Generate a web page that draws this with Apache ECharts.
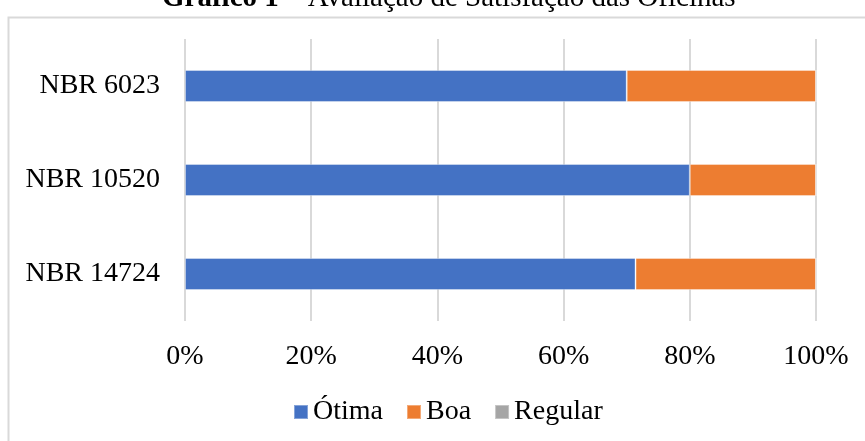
<!DOCTYPE html>
<html>
<head>
<meta charset="utf-8">
<script src="https://cdn.jsdelivr.net/npm/echarts@6/dist/echarts.min.js"></script>
<style>
  html, body { margin: 0; padding: 0; background: #fff; }
  #chart { width: 865px; height: 441px; }
</style>
</head>
<body>
<div id="chart"></div>
<script>
// dados (percentuais)
const categories = ["NBR 6023", "NBR 10520", "NBR 14724"];
const otima = [70, 80, 71.4];
const boa = [30, 20, 28.6];
const regular = [0, 0, 0];
const xTicks = [0, 20, 40, 60, 80, 100];

const font = "'Liberation Serif', 'Times New Roman', serif";

let chart = echarts.init(document.getElementById("chart"));

// série de barra empilhada
function barSeries(name, data, color) {
  return {
    name: name,
    type: "bar",
    stack: "total",
    data: data,
    barWidth: 32,
    itemStyle: { color: color, borderColor: "rgba(255,255,255,0.35)", borderWidth: 1 }
  };
}

chart.setOption({
  animation: false,
  title: {
    text: "{b|Gráfico 1} – Avaliação de Satisfação das Oficinas",
    left: 157,
    top: -21,
    textStyle: {
      fontFamily: font,
      fontSize: 29,
      fontWeight: "normal",
      color: "#000",
      rich: { b: { fontFamily: font, fontSize: 29, fontWeight: "bold", color: "#000" } }
    }
  },
  graphic: [
    {
      type: "polyline",
      shape: { points: [[8.5, 445], [8.5, 17.5], [870, 17.5]] },
      style: { stroke: "#d9d9d9", lineWidth: 2, fill: null }
    }
  ],
  legend: {
    bottom: 10,
    left: 288,
    itemWidth: 14,
    itemHeight: 14,
    itemGap: 23,
    icon: "rect",
    textStyle: { fontFamily: font, fontSize: 28, color: "#000" },
    data: ["Ótima", "Boa", "Regular"]
  },
  grid: { left: 185, right: 49, top: 39, bottom: 120 },
  xAxis: {
    type: "value",
    min: xTicks[0],
    max: xTicks[xTicks.length - 1],
    interval: 20,
    axisLine: { show: false },
    axisTick: { show: false },
    axisLabel: {
      formatter: v => v + "%",
      fontFamily: font,
      fontSize: 28,
      color: "#000",
      margin: 22
    },
    splitLine: { lineStyle: { color: "#d9d9d9", width: 2 } }
  },
  yAxis: {
    type: "category",
    inverse: true,
    data: categories,
    axisLine: { show: false },
    axisTick: { show: false },
    axisLabel: { fontFamily: font, fontSize: 28, color: "#000", margin: 25 }
  },
  series: [
    barSeries("Ótima", otima, "#4472c4"),
    barSeries("Boa", boa, "#ed7d31"),
    barSeries("Regular", regular, "#a5a5a5")
  ]
});
</script>
</body>
</html>
